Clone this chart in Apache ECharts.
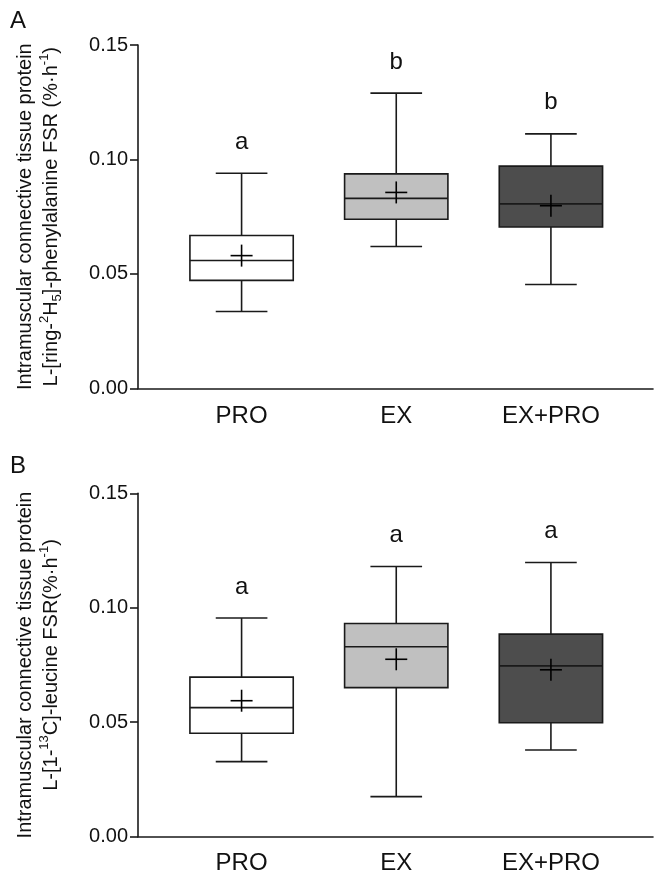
<!DOCTYPE html>
<html><head><meta charset="utf-8">
<script src="https://cdn.jsdelivr.net/npm/echarts@6/dist/echarts.min.js"></script>
<style>html,body{margin:0;padding:0;background:#fff}#c{width:661px;height:876px}</style>
</head><body><div id="c"></div>
<script>
const categories = ['PRO', 'EX', 'EX+PRO'];
// Panel A (L-[ring-2H5]-phenylalanine)
const aMin    = [0.0336, 0.0620, 0.0454];
const aQ1     = [0.0472, 0.0739, 0.0705];
const aMedian = [0.0559, 0.0830, 0.0806];
const aQ3     = [0.0668, 0.0937, 0.0971];
const aMax    = [0.0940, 0.1290, 0.1112];
const aMean   = [0.0580, 0.0856, 0.0798];
const aLetters = ['a', 'b', 'b'];
// Panel B (L-[1-13C]-leucine)
const bMin    = [0.0328, 0.0175, 0.0379];
const bQ1     = [0.0452, 0.0651, 0.0498];
const bMedian = [0.0564, 0.0830, 0.0746];
const bQ3     = [0.0697, 0.0931, 0.0885];
const bMax    = [0.0955, 0.1180, 0.1198];
const bMean   = [0.0594, 0.0775, 0.0729];
const bLetters = ['a', 'a', 'a'];

const FONT = '"Liberation Sans", Arial, Helvetica, sans-serif';
const INK = '#1a1a1a';
const fills = ['#ffffff', '#c0c0c0', '#4d4d4d'];

function rows(mn, q1, md, q3, mx, mean) {
  return categories.map((c, i) => [i, mn[i], q1[i], md[i], q3[i], mx[i], mean[i]]);
}

function makeRender(letters) {
  return function (params, api) {
    const i = api.value(0);
    const band = api.size([1, 0])[0];
    const bw = band * 0.668;
    const cw = bw / 2;
    const x = api.coord([i, 0])[0];
    const y = v => api.coord([i, v])[1];
    const yMin = y(api.value(1)), yQ1 = y(api.value(2)), yMed = y(api.value(3));
    const yQ3 = y(api.value(4)), yMax = y(api.value(5)), yMean = y(api.value(6));
    const st = { stroke: INK, lineWidth: 1.6 };
    const m = 11;
    return {
      type: 'group',
      children: [
        { type: 'line', shape: { x1: x, y1: yMax, x2: x, y2: yQ3 }, style: st },
        { type: 'line', shape: { x1: x, y1: yQ1, x2: x, y2: yMin }, style: st },
        { type: 'line', shape: { x1: x - cw / 2, y1: yMax, x2: x + cw / 2, y2: yMax }, style: st },
        { type: 'line', shape: { x1: x - cw / 2, y1: yMin, x2: x + cw / 2, y2: yMin }, style: st },
        { type: 'rect', shape: { x: x - bw / 2, y: yQ3, width: bw, height: yQ1 - yQ3 },
          style: { fill: fills[i], stroke: INK, lineWidth: 1.6 } },
        { type: 'line', shape: { x1: x - bw / 2, y1: yMed, x2: x + bw / 2, y2: yMed }, style: st },
        { type: 'line', shape: { x1: x - m, y1: yMean, x2: x + m, y2: yMean }, style: { stroke: '#000', lineWidth: 1.6 } },
        { type: 'line', shape: { x1: x, y1: yMean - m, x2: x, y2: yMean + m }, style: { stroke: '#000', lineWidth: 1.6 } },
        { type: 'text', style: { text: letters[params.dataIndex], x: x, y: yMax - 31,
          align: 'center', verticalAlign: 'middle', fill: '#111', font: '24px ' + FONT } }
      ]
    };
  };
}

function nameRich() {
  return {
    fontFamily: FONT, fontSize: 20, color: '#111', lineHeight: 26,
    rich: {
      n: { fontFamily: FONT, fontSize: 20, lineHeight: 26, color: '#111' },
      sup: { fontFamily: FONT, fontSize: 13, lineHeight: 14, verticalAlign: 'top', color: '#111' },
      sub: { fontFamily: FONT, fontSize: 13, lineHeight: 12, verticalAlign: 'bottom', color: '#111' }
    }
  };
}

const nameA = '{n|Intramuscular connective tissue protein}\n{n|L-[ring-}{sup|2}{n|H}{sub|5}{n|]-phenylalanine FSR (%·h}{sup|-1}{n|)}';
const nameB = '{n|Intramuscular connective tissue protein}\n{n|L-[1-}{sup|13}{n|C]-leucine FSR(%·h}{sup|-1}{n|)}';

const tops = [45, 493.3];
const H = 343.4;
const grids = [], xAxes = [], yAxes = [];
[nameA, nameB].forEach((nm, p) => {
  grids.push({ left: 138, right: 8, top: tops[p], height: H });
  grids.push({ left: 164.25, width: 464, top: tops[p], height: H });
  xAxes.push({ gridIndex: 2 * p, type: 'value', min: 0, max: 1,
    axisLine: { show: true, lineStyle: { color: INK, width: 1.6 } },
    axisTick: { show: false }, axisLabel: { show: false }, splitLine: { show: false } });
  xAxes.push({ gridIndex: 2 * p + 1, type: 'category', data: categories,
    axisLine: { show: false }, axisTick: { show: false },
    axisLabel: { fontFamily: FONT, fontSize: 24, color: '#111', margin: p === 0 ? 16 : 15 } });
  yAxes.push({ gridIndex: 2 * p, type: 'value', min: 0, max: 0.15, interval: 0.05,
    axisLine: { show: true, lineStyle: { color: INK, width: 1.6 } },
    axisTick: { show: true, length: 8, lineStyle: { color: INK, width: 1.6 } },
    splitLine: { show: false },
    axisLabel: { fontFamily: FONT, fontSize: 20, color: '#111', margin: 10, formatter: v => v.toFixed(2) },
    name: nm, nameLocation: 'middle', nameRotate: 90, nameGap: 74, nameTextStyle: nameRich() });
  yAxes.push({ gridIndex: 2 * p + 1, type: 'value', min: 0, max: 0.15, show: false });
});

const chart = echarts.init(document.getElementById('c'), null, { renderer: 'canvas' });
chart.setOption({
  backgroundColor: '#fff',
  animation: false,
  title: [
    { text: 'A', left: 10, top: 9, padding: 0, textStyle: { fontFamily: FONT, fontSize: 24, fontWeight: 'normal', color: '#111' } },
    { text: 'B', left: 10, top: 454, padding: 0, textStyle: { fontFamily: FONT, fontSize: 24, fontWeight: 'normal', color: '#111' } }
  ],
  grid: grids, xAxis: xAxes, yAxis: yAxes,
  series: [
    { type: 'custom', name: 'A', xAxisIndex: 1, yAxisIndex: 1, renderItem: makeRender(aLetters),
      data: rows(aMin, aQ1, aMedian, aQ3, aMax, aMean) },
    { type: 'custom', name: 'B', xAxisIndex: 3, yAxisIndex: 3, renderItem: makeRender(bLetters),
      data: rows(bMin, bQ1, bMedian, bQ3, bMax, bMean) }
  ]
});
</script></body></html>
